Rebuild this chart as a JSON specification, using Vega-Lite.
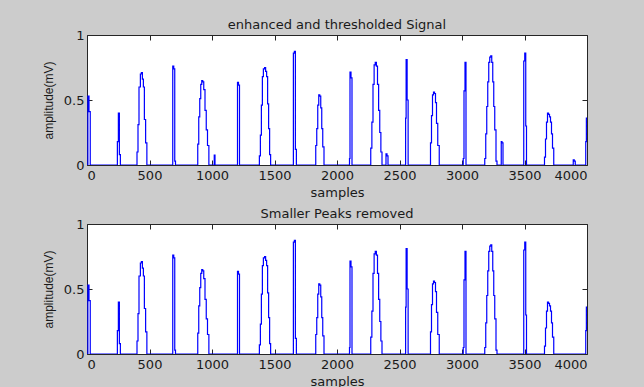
{
  "$schema": "https://vega.github.io/schema/vega-lite/v6.json",
  "background": "#cccccc",
  "padding": {"left": 41, "top": 18, "right": 58, "bottom": 5},
  "bounds": "flush",
  "spacing": 59,
  "datasets": {
    "top": [
      {"x":0,"y":0},{"x":7,"y":0.53},{"x":16,"y":0.41},{"x":26,"y":0},
      {"x":243,"y":0.18},{"x":251,"y":0.40},{"x":259,"y":0.08},{"x":267,"y":0},
      {"x":400,"y":0.10},{"x":408,"y":0.31},{"x":416,"y":0.60},{"x":427,"y":0.70},{"x":435,"y":0.71},{"x":443,"y":0.66},{"x":451,"y":0.60},{"x":459,"y":0.35},{"x":469,"y":0.17},{"x":479,"y":0},
      {"x":686,"y":0.76},{"x":694,"y":0.74},{"x":702,"y":0.03},{"x":708,"y":0},
      {"x":886,"y":0.16},{"x":894,"y":0.37},{"x":902,"y":0.51},{"x":910,"y":0.62},{"x":918,"y":0.65},{"x":926,"y":0.64},{"x":934,"y":0.58},{"x":944,"y":0.42},{"x":954,"y":0.27},{"x":964,"y":0.15},{"x":975,"y":0},
      {"x":1018,"y":0.077},{"x":1024,"y":0},
      {"x":1204,"y":0.635},{"x":1212,"y":0.615},{"x":1220,"y":0},
      {"x":1379,"y":0.07},{"x":1387,"y":0.23},{"x":1395,"y":0.46},{"x":1403,"y":0.68},{"x":1411,"y":0.74},{"x":1421,"y":0.75},{"x":1429,"y":0.72},{"x":1437,"y":0.68},{"x":1445,"y":0.47},{"x":1453,"y":0.28},{"x":1461,"y":0.08},{"x":1469,"y":0},
      {"x":1651,"y":0.86},{"x":1659,"y":0.875},{"x":1667,"y":0.12},{"x":1675,"y":0},
      {"x":1830,"y":0.15},{"x":1838,"y":0.28},{"x":1846,"y":0.46},{"x":1854,"y":0.54},{"x":1862,"y":0.53},{"x":1870,"y":0.44},{"x":1878,"y":0.28},{"x":1886,"y":0.14},{"x":1896,"y":0},
      {"x":2100,"y":0.05},{"x":2104,"y":0.715},{"x":2112,"y":0.67},{"x":2120,"y":0},
      {"x":2270,"y":0.13},{"x":2279,"y":0.33},{"x":2288,"y":0.62},{"x":2297,"y":0.77},{"x":2306,"y":0.79},{"x":2315,"y":0.76},{"x":2324,"y":0.62},{"x":2333,"y":0.42},{"x":2342,"y":0.25},{"x":2351,"y":0.1},{"x":2360,"y":0},
      {"x":2392,"y":0.085},{"x":2400,"y":0.07},{"x":2408,"y":0},
      {"x":2549,"y":0.36},{"x":2553,"y":0.81},{"x":2561,"y":0.50},{"x":2569,"y":0},
      {"x":2748,"y":0.17},{"x":2756,"y":0.38},{"x":2764,"y":0.54},{"x":2772,"y":0.56},{"x":2780,"y":0.55},{"x":2788,"y":0.48},{"x":2796,"y":0.32},{"x":2806,"y":0.15},{"x":2818,"y":0},
      {"x":3010,"y":0.05},{"x":3016,"y":0.57},{"x":3024,"y":0.79},{"x":3032,"y":0},
      {"x":3182,"y":0.05},{"x":3190,"y":0.24},{"x":3198,"y":0.45},{"x":3206,"y":0.64},{"x":3214,"y":0.79},{"x":3222,"y":0.83},{"x":3230,"y":0.84},{"x":3238,"y":0.79},{"x":3246,"y":0.64},{"x":3254,"y":0.45},{"x":3262,"y":0.27},{"x":3272,"y":0.03},{"x":3280,"y":0},
      {"x":3314,"y":0.18},{"x":3320,"y":0.17},{"x":3328,"y":0},
      {"x":3494,"y":0.80},{"x":3502,"y":0.86},{"x":3510,"y":0.30},{"x":3516,"y":0},
      {"x":3660,"y":0.06},{"x":3668,"y":0.2},{"x":3676,"y":0.33},{"x":3684,"y":0.40},{"x":3692,"y":0.39},{"x":3700,"y":0.37},{"x":3708,"y":0.33},{"x":3716,"y":0.24},{"x":3724,"y":0.13},{"x":3734,"y":0},
      {"x":3890,"y":0.04},{"x":3898,"y":0.03},{"x":3906,"y":0},
      {"x":3990,"y":0.18},{"x":3995,"y":0.36},{"x":4000,"y":0.36}
    ],
    "bottom": [
      {"x":0,"y":0},{"x":7,"y":0.53},{"x":16,"y":0.41},{"x":26,"y":0},
      {"x":243,"y":0.18},{"x":251,"y":0.40},{"x":259,"y":0.08},{"x":267,"y":0},
      {"x":400,"y":0.10},{"x":408,"y":0.31},{"x":416,"y":0.60},{"x":427,"y":0.70},{"x":435,"y":0.71},{"x":443,"y":0.66},{"x":451,"y":0.60},{"x":459,"y":0.35},{"x":469,"y":0.17},{"x":479,"y":0},
      {"x":686,"y":0.76},{"x":694,"y":0.74},{"x":702,"y":0.03},{"x":708,"y":0},
      {"x":886,"y":0.16},{"x":894,"y":0.37},{"x":902,"y":0.51},{"x":910,"y":0.62},{"x":918,"y":0.65},{"x":926,"y":0.64},{"x":934,"y":0.58},{"x":944,"y":0.42},{"x":954,"y":0.27},{"x":964,"y":0.15},{"x":975,"y":0},
      {"x":1204,"y":0.635},{"x":1212,"y":0.615},{"x":1220,"y":0},
      {"x":1379,"y":0.07},{"x":1387,"y":0.23},{"x":1395,"y":0.46},{"x":1403,"y":0.68},{"x":1411,"y":0.74},{"x":1421,"y":0.75},{"x":1429,"y":0.72},{"x":1437,"y":0.68},{"x":1445,"y":0.47},{"x":1453,"y":0.28},{"x":1461,"y":0.08},{"x":1469,"y":0},
      {"x":1651,"y":0.86},{"x":1659,"y":0.875},{"x":1667,"y":0.12},{"x":1675,"y":0},
      {"x":1830,"y":0.15},{"x":1838,"y":0.28},{"x":1846,"y":0.46},{"x":1854,"y":0.54},{"x":1862,"y":0.53},{"x":1870,"y":0.44},{"x":1878,"y":0.28},{"x":1886,"y":0.14},{"x":1896,"y":0},
      {"x":2100,"y":0.05},{"x":2104,"y":0.715},{"x":2112,"y":0.67},{"x":2120,"y":0},
      {"x":2270,"y":0.13},{"x":2279,"y":0.33},{"x":2288,"y":0.62},{"x":2297,"y":0.77},{"x":2306,"y":0.79},{"x":2315,"y":0.76},{"x":2324,"y":0.62},{"x":2333,"y":0.42},{"x":2342,"y":0.25},{"x":2351,"y":0.1},{"x":2360,"y":0},
      {"x":2549,"y":0.36},{"x":2553,"y":0.81},{"x":2561,"y":0.50},{"x":2569,"y":0},
      {"x":2748,"y":0.17},{"x":2756,"y":0.38},{"x":2764,"y":0.54},{"x":2772,"y":0.56},{"x":2780,"y":0.55},{"x":2788,"y":0.48},{"x":2796,"y":0.32},{"x":2806,"y":0.15},{"x":2818,"y":0},
      {"x":3010,"y":0.05},{"x":3016,"y":0.57},{"x":3024,"y":0.79},{"x":3032,"y":0},
      {"x":3182,"y":0.05},{"x":3190,"y":0.24},{"x":3198,"y":0.45},{"x":3206,"y":0.64},{"x":3214,"y":0.79},{"x":3222,"y":0.83},{"x":3230,"y":0.84},{"x":3238,"y":0.79},{"x":3246,"y":0.64},{"x":3254,"y":0.45},{"x":3262,"y":0.27},{"x":3272,"y":0.03},{"x":3280,"y":0},
      {"x":3494,"y":0.80},{"x":3502,"y":0.86},{"x":3510,"y":0.30},{"x":3516,"y":0},
      {"x":3660,"y":0.06},{"x":3668,"y":0.2},{"x":3676,"y":0.33},{"x":3684,"y":0.40},{"x":3692,"y":0.39},{"x":3700,"y":0.37},{"x":3708,"y":0.33},{"x":3716,"y":0.24},{"x":3724,"y":0.13},{"x":3734,"y":0},
      {"x":3990,"y":0.18},{"x":3995,"y":0.36},{"x":4000,"y":0.36}
    ]
  },
  "vconcat": [
    {
      "title": {"text": "enhanced and thresholded Signal"},
      "width": 500, "height": 130,
      "data": {"name": "top"},
      "layer": [
        {
          "mark": {"type": "line", "interpolate": "step-after", "color": "#0000ff", "strokeWidth": 1.2, "clip": true},
          "encoding": {
            "x": {"field": "x", "type": "quantitative", "scale": {"domain": [0, 4000], "nice": false},
                  "axis": {"values": [0,500,1000,1500,2000,2500,3000,3500,4000], "format": "d", "title": "samples", "titlePadding": 4, "labelPadding": 9}},
            "y": {"field": "y", "type": "quantitative", "scale": {"domain": [0, 1], "nice": false},
                  "axis": {"values": [0, 0.5, 1], "format": "~g", "labelPadding": 8, "title": "amplitude(mV)", "titleFont": "Liberation Sans", "titleFontSize": 12, "titleX": -35, "titleY": 65, "titleAlign": "center", "titleBaseline": "alphabetic", "titleAngle": 270}}
          }
        },
        {
          "mark": {"type": "line", "strokeOpacity": 0},
          "encoding": {
            "x": {"field": "x", "type": "quantitative", "axis": {"orient": "top", "labels": false, "title": null, "values": [0,500,1000,1500,2000,2500,3000,3500,4000]}},
            "y": {"field": "y", "type": "quantitative", "axis": {"orient": "right", "labels": false, "title": null, "values": [0, 0.5, 1]}}
          }
        }
      ],
      "resolve": {"axis": {"x": "independent", "y": "independent"}}
    },
    {
      "title": {"text": "Smaller Peaks removed"},
      "width": 500, "height": 130,
      "data": {"name": "bottom"},
      "layer": [
        {
          "mark": {"type": "line", "interpolate": "step-after", "color": "#0000ff", "strokeWidth": 1.2, "clip": true},
          "encoding": {
            "x": {"field": "x", "type": "quantitative", "scale": {"domain": [0, 4000], "nice": false},
                  "axis": {"values": [0,500,1000,1500,2000,2500,3000,3500,4000], "format": "d", "title": "samples", "titlePadding": 4, "labelPadding": 9}},
            "y": {"field": "y", "type": "quantitative", "scale": {"domain": [0, 1], "nice": false},
                  "axis": {"values": [0, 0.5, 1], "format": "~g", "labelPadding": 8, "title": "amplitude(mV)", "titleFont": "Liberation Sans", "titleFontSize": 12, "titleX": -35, "titleY": 65, "titleAlign": "center", "titleBaseline": "alphabetic", "titleAngle": 270}}
          }
        },
        {
          "mark": {"type": "line", "strokeOpacity": 0},
          "encoding": {
            "x": {"field": "x", "type": "quantitative", "axis": {"orient": "top", "labels": false, "title": null, "values": [0,500,1000,1500,2000,2500,3000,3500,4000]}},
            "y": {"field": "y", "type": "quantitative", "axis": {"orient": "right", "labels": false, "title": null, "values": [0, 0.5, 1]}}
          }
        }
      ],
      "resolve": {"axis": {"x": "independent", "y": "independent"}}
    }
  ],
  "config": {
    "view": {"stroke": "#262626", "strokeWidth": 1, "fill": "white"},
    "axis": {"domain": false, "grid": false, "tickSize": -5, "tickColor": "#262626", "tickWidth": 1,
             "labelFont": "DejaVu Sans", "labelFontSize": 13, "labelColor": "#1a1a1a",
             "titleFont": "DejaVu Sans", "titleFontSize": 13, "titleFontWeight": "normal", "titleColor": "#1a1a1a"},
    "title": {"font": "DejaVu Sans", "fontSize": 13, "fontWeight": "normal", "color": "#1a1a1a", "offset": -3, "baseline": "alphabetic"}
  }
}
